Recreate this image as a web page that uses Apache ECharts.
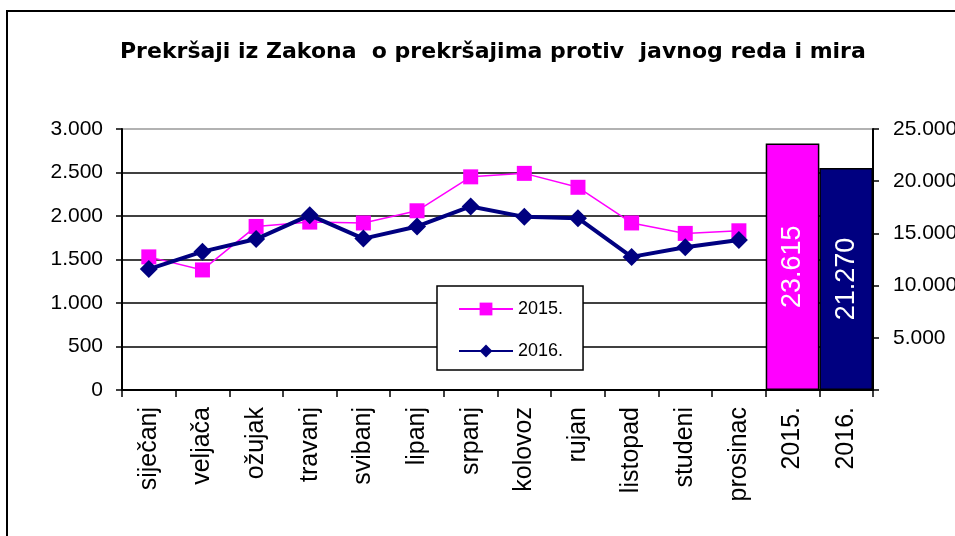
<!DOCTYPE html>
<html>

<head>
    <meta charset="utf-8">
    <title>Prekršaji - javni red i mir</title>
    <script src="https://cdn.jsdelivr.net/npm/echarts@6.0.0/dist/echarts.min.js"></script>
    <style>
        html, body { margin: 0; padding: 0; background: #fff; }
    </style>
</head>

<body>
    <div id="chart" style="width: 955px; height: 536px;"></div>

    <script>
        var chart = echarts.init(document.getElementById('chart'));

        // kategorije na osi x
        var months = ['siječanj', 'veljača', 'ožujak', 'travanj', 'svibanj', 'lipanj',
            'srpanj', 'kolovoz', 'rujan', 'listopad', 'studeni', 'prosinac'];
        var totalsLabels = ['2015.', '2016.'];

        // mjesečne vrijednosti (lijeva os)
        var data2015 = [1530, 1380, 1880, 1930, 1920, 2060, 2450, 2490, 2330, 1920, 1800, 1830];
        var data2016 = [1390, 1590, 1735, 2010, 1740, 1880, 2110, 1990, 1975, 1530, 1640, 1725];

        // ukupno po godini (desna os)
        var totals = [23615, 21270];

        var font = 'Liberation Sans, Arial, sans-serif';

        function fmt(v) {
            return String(v).replace(/\B(?=(\d{3})+(?!\d))/g, '.');
        }

        var categories = months.concat(totalsLabels);
        var barData = months.map(function () { return '-'; }).concat([
            { value: totals[0], itemStyle: { color: '#ff00ff' } },
            { value: totals[1], itemStyle: { color: '#000080' } }
        ]);

        var options = {
            animation: false,
            backgroundColor: '#fff',
            title: {
                text: 'Prekršaji iz Zakona  o prekršajima protiv  javnog reda i mira',
                left: 115,
                top: 36,
                textStyle: { fontFamily: 'DejaVu Sans', fontSize: 22, fontWeight: 'bold', color: '#000' }
            },
            graphic: [{
                type: 'rect',
                shape: { x: 7, y: 11, width: 1200, height: 800 },
                style: { fill: 'none', stroke: '#000', lineWidth: 2 },
                silent: true
            }],
            legend: {
                data: ['2015.', '2016.'],
                orient: 'vertical',
                left: 437,
                top: 286,
                padding: [14, 20, 10, 21],
                itemWidth: 54,
                itemHeight: 16,
                itemGap: 24,
                backgroundColor: '#fff',
                borderColor: '#000',
                borderWidth: 1.5,
                borderRadius: 0,
                textStyle: { fontFamily: font, fontSize: 18, color: '#000' }
            },
            grid: { left: 122, right: 82, top: 129, bottom: 146, outerBoundsMode: 'none' },
            xAxis: {
                type: 'category',
                data: categories,
                axisLine: { lineStyle: { color: '#000', width: 2 } },
                axisTick: { show: true, length: 7, lineStyle: { color: '#000', width: 1.5 } },
                axisLabel: {
                    rotate: 90,
                    margin: 17,
                    interval: 0,
                    fontFamily: font,
                    fontSize: 25,
                    color: '#000'
                }
            },
            yAxis: [{
                type: 'value',
                min: 0,
                max: 3000,
                interval: 500,
                axisLine: { show: true, lineStyle: { color: '#000', width: 2 } },
                axisTick: { show: true, length: 6, lineStyle: { color: '#000', width: 1.5 } },
                axisLabel: {
                    margin: 19,
                    fontFamily: font,
                    fontSize: 21,
                    color: '#000',
                    formatter: fmt
                },
                splitLine: {
                    lineStyle: {
                        color: ['#000', '#000', '#000', '#000', '#000', '#000', '#999'],
                        width: 1.5
                    }
                }
            }, {
                type: 'value',
                min: 0,
                max: 25000,
                interval: 5000,
                position: 'right',
                axisLine: { show: true, lineStyle: { color: '#000', width: 2 } },
                axisTick: { show: true, length: 6, lineStyle: { color: '#000', width: 1.5 } },
                axisLabel: {
                    margin: 20,
                    fontFamily: font,
                    fontSize: 21,
                    color: '#000',
                    formatter: function (v) { return v === 0 ? '' : fmt(v); }
                },
                splitLine: { show: false }
            }],
            series: [{
                name: 'ukupno',
                type: 'bar',
                yAxisIndex: 1,
                barCategoryGap: '0%',
                data: barData,
                itemStyle: { borderColor: '#000', borderWidth: 1.5 },
                label: {
                    show: true,
                    position: 'inside',
                    rotate: 90,
                    color: '#fff',
                    fontFamily: font,
                    fontSize: 27,
                    formatter: function (p) { return fmt(p.value); }
                },
                z: 3
            }, {
                name: '2015.',
                type: 'line',
                yAxisIndex: 0,
                data: data2015,
                symbol: 'rect',
                symbolSize: 15,
                color: '#ff00ff',
                lineStyle: { color: '#ff00ff', width: 1.5 },
                itemStyle: { color: '#ff00ff' },
                z: 4
            }, {
                name: '2016.',
                type: 'line',
                yAxisIndex: 0,
                data: data2016,
                symbol: 'diamond',
                symbolSize: 18,
                color: '#000080',
                lineStyle: { color: '#000080', width: 4 },
                itemStyle: { color: '#000080' },
                z: 5
            }]
        };

        chart.setOption(options);
    </script>
</body>

</html>
